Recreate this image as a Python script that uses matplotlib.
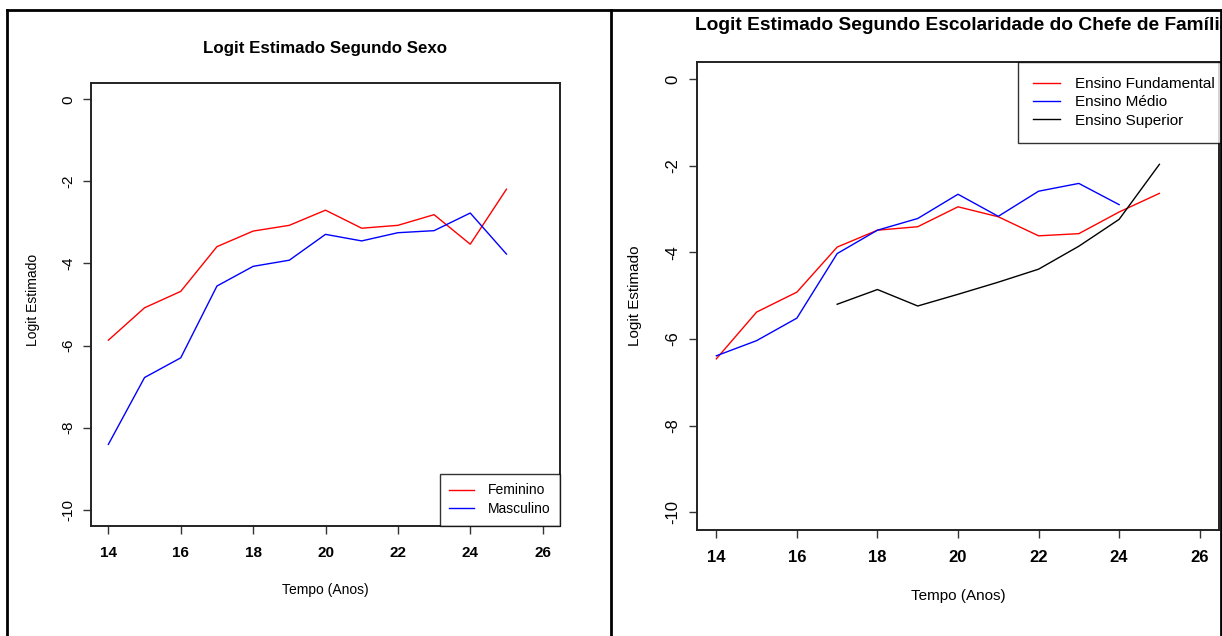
import matplotlib
matplotlib.use("Agg")
import matplotlib.pyplot as plt
from matplotlib.lines import Line2D

plt.rcParams["font.family"] = ["Liberation Sans", "DejaVu Sans"]

W, H = 1222, 636

# logit estimado por sexo
tempo_sexo = [14, 15, 16, 17, 18, 19, 20, 21, 22, 23, 24, 25]
feminino = [-5.87, -5.08, -4.68, -3.59, -3.21, -3.07, -2.70, -3.14, -3.07, -2.81, -3.53, -2.19]
masculino = [-8.41, -6.78, -6.30, -4.55, -4.07, -3.92, -3.29, -3.45, -3.25, -3.20, -2.77, -3.77]

# logit estimado por escolaridade do chefe
tempo_fund = [14, 15, 16, 17, 18, 19, 20, 21, 22, 23, 24, 25]
fundamental = [-6.46, -5.38, -4.92, -3.88, -3.49, -3.41, -2.95, -3.18, -3.62, -3.57, -3.07, -2.64]
tempo_medio = [14, 15, 16, 17, 18, 19, 20, 21, 22, 23, 24]
medio = [-6.39, -6.04, -5.52, -4.03, -3.49, -3.22, -2.66, -3.17, -2.59, -2.41, -2.90]
tempo_sup = [17, 18, 19, 20, 21, 22, 23, 24, 25]
superior = [-5.20, -4.86, -5.24, -4.97, -4.69, -4.39, -3.86, -3.24, -1.97]

xticks = [14, 16, 18, 20, 22, 24, 26]
yticks = [0, -2, -4, -6, -8, -10]


def box(left, top, right, bottom):
    """Pixel box -> figure fraction rect"""
    return [left / W, 1 - bottom / H, (right - left) / W, (bottom - top) / H]


def fx(x):
    return x / W


def fy(y):
    return 1 - y / H


def style_axes(ax, tick_size, xpad, ypad):
    """R-like base graphics axes"""
    ax.set_xlim(13.52, 26.48)
    ax.set_ylim(-10.4, 0.4)
    ax.set_xticks(xticks)
    ax.set_yticks(yticks)
    ax.set_yticklabels([str(t) for t in yticks], rotation=90, va="center")
    ax.tick_params(direction="out", length=5.8, width=1.0, color="#333333",
                   labelsize=tick_size)
    ax.tick_params(axis="x", pad=xpad)
    ax.tick_params(axis="y", pad=ypad)
    for lab in ax.get_xticklabels():
        lab.set_fontweight("bold")
    for s in ax.spines.values():
        s.set_linewidth(1.4)
        s.set_color("#222222")


fig = plt.figure(figsize=(W / 100, H / 100), dpi=100)

# painel esquerdo: sexo
ax1 = fig.add_axes(box(91, 83, 560, 526))
ax1.plot(tempo_sexo, feminino, color="red", lw=1.0, label="Feminino")
ax1.plot(tempo_sexo, masculino, color="blue", lw=1.0, label="Masculino")
style_axes(ax1, 11, 8.5, 5.5)
leg1 = ax1.legend(loc="lower right", borderaxespad=0, fancybox=False,
                  edgecolor="black", fontsize=10, handlelength=1.8,
                  handletextpad=0.95, labelspacing=0.35, borderpad=0.7)
leg1.get_frame().set_linewidth(1.0)
fig.text(fx(325), fy(48), "Logit Estimado Segundo Sexo", ha="center", va="center",
         fontsize=12.2, fontweight="bold")
fig.text(fx(325), fy(590), "Tempo (Anos)", ha="center", va="center", fontsize=10)
fig.text(fx(33), fy(300), "Logit Estimado", ha="center", va="center", rotation=90,
         fontsize=10)

# painel direito: escolaridade
ax2 = fig.add_axes(box(697, 61.7, 1219, 529.5))
ax2.plot(tempo_fund, fundamental, color="red", lw=1.0, label="Ensino Fundamental")
ax2.plot(tempo_medio, medio, color="blue", lw=1.0, label="Ensino Médio")
ax2.plot(tempo_sup, superior, color="black", lw=1.0, label="Ensino Superior")
style_axes(ax2, 12, 9, 6.5)
leg2 = ax2.legend(loc="upper left", bbox_to_anchor=((1018 - 697) / (1219 - 697), 1.0),
                  borderaxespad=0, fancybox=False, edgecolor="black", fontsize=11,
                  handlelength=1.76, handletextpad=1.0, labelspacing=0.28,
                  borderpad=1.0)
leg2.get_frame().set_linewidth(1.0)
fig.text(fx(695), fy(25), "Logit Estimado Segundo Escolaridade do Chefe de Família",
         ha="left", va="center", fontsize=13.8, fontweight="bold")
fig.text(fx(958), fy(596), "Tempo (Anos)", ha="center", va="center", fontsize=11)
fig.text(fx(635), fy(296), "Logit Estimado", ha="center", va="center", rotation=90,
         fontsize=11)

# moldura externa
frame_lw = 2.0
for xs, ys in [((7.5, 7.5), (10, H)), ((7.5, W), (10, 10)),
               ((610.5, 610.5), (10, H)), ((1220.5, 1220.5), (10, H))]:
    fig.add_artist(Line2D([fx(x) for x in xs], [fy(y) for y in ys], color="black",
                          lw=frame_lw, transform=fig.transFigure))

fig.savefig("out.png", dpi=100)
